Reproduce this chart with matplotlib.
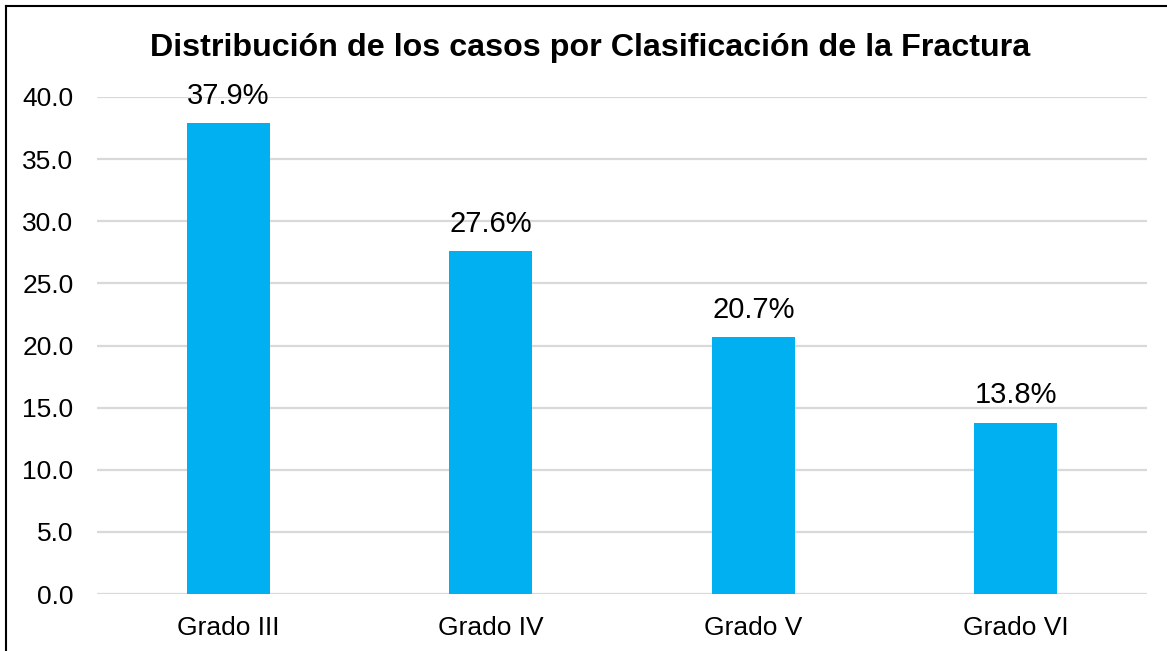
import matplotlib.pyplot as plt
from matplotlib.lines import Line2D

categorias = ['Grado III', 'Grado IV', 'Grado V', 'Grado VI']
porcentajes = [37.9, 27.6, 20.7, 13.8]
ticks_y = [0, 5, 10, 15, 20, 25, 30, 35, 40]

plt.rcParams['font.family'] = ['Liberation Sans', 'DejaVu Sans']

fig = plt.figure(figsize=(11.67, 6.51), dpi=100)
ax = fig.add_axes([97 / 1167, 1 - 594 / 651, 1050 / 1167, 497 / 651])

x = range(len(categorias))
bars = ax.bar(x, porcentajes, width=0.315, color='#00B0F0', zorder=3)
for b, v in zip(bars, porcentajes):
    ax.text(b.get_x() + b.get_width() / 2, v + 1.55, f'{v:.1f}%',
            ha='center', va='baseline', fontsize=21, clip_on=False)

ax.set_xlim(-0.5, len(categorias) - 0.5)
ax.set_ylim(0, 40)
ax.set_yticks(ticks_y)
ax.set_yticklabels([f'{t:.1f}' for t in ticks_y], fontsize=19)
ax.set_xticks(list(x))
ax.set_xticklabels(categorias, fontsize=19)
ax.tick_params(axis='both', length=0)
ax.tick_params(axis='y', pad=17)
ax.tick_params(axis='x', pad=16)
ax.grid(axis='y', color='#D9D9D9', linewidth=1.6, zorder=0)
ax.set_axisbelow(True)
for s in ax.spines.values():
    s.set_visible(False)

fig.text(590 / 1167, 1 - 48 / 651, 'Distribución de los casos por Clasificación de la Fractura',
         ha='center', va='center', fontsize=23.2, fontweight='bold')

# marco exterior (recortado a la derecha y abajo)
fig.add_artist(Line2D([5.5 / 1167, 5.5 / 1167], [0, 1 - 6 / 651], color='black', linewidth=1.5,
                      transform=fig.transFigure))
fig.add_artist(Line2D([5.5 / 1167, 1], [1 - 6 / 651, 1 - 6 / 651], color='black', linewidth=1.5,
                      transform=fig.transFigure))

fig.savefig('out.png', dpi=100)
